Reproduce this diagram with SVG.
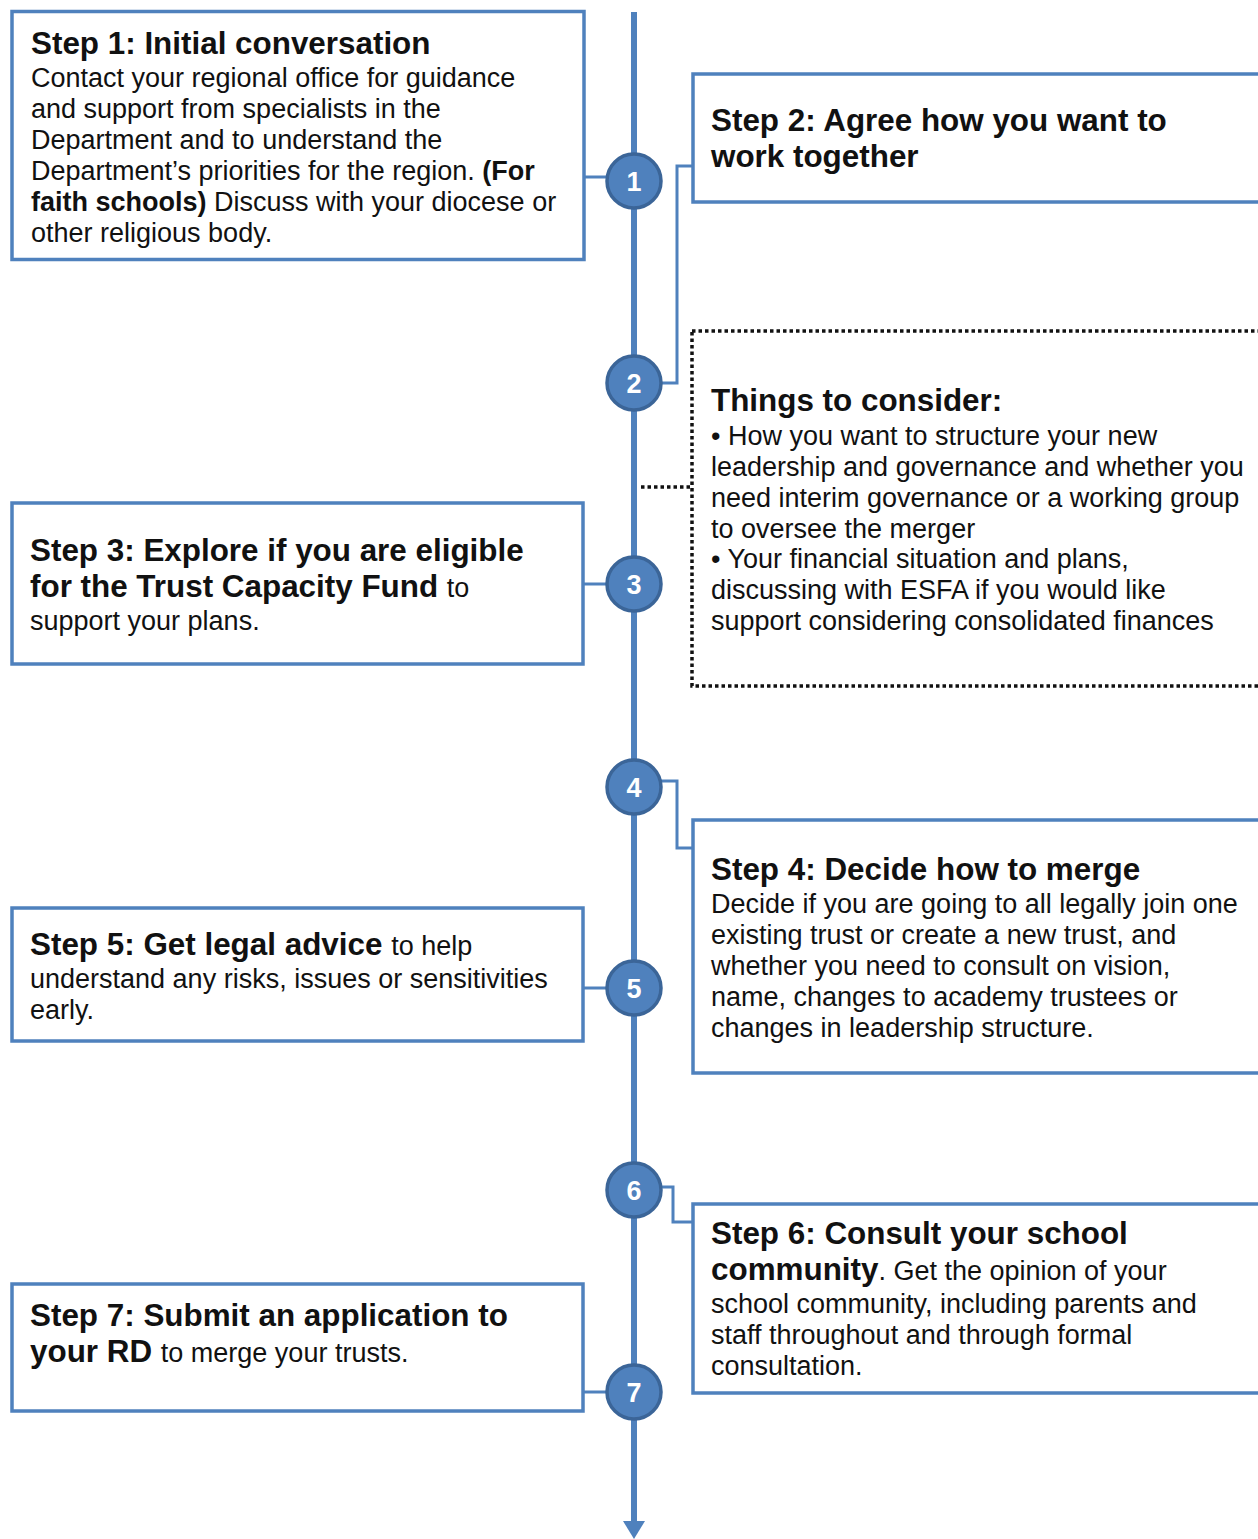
<svg xmlns="http://www.w3.org/2000/svg" width="1258" height="1539" viewBox="0 0 1258 1539">
<style>
text{font-family:"Liberation Sans",Arial,sans-serif;fill:#111}
.t{font-size:31.4px;font-weight:bold}
.b{font-size:27px}
.bb{font-weight:bold}
.box{fill:#fff;stroke:#4f81bd;stroke-width:3.5}
.dot{fill:#fff;stroke:#111;stroke-width:3.5;stroke-dasharray:3.5 3}
.ln{fill:none;stroke:#4f81bd;stroke-width:3}
.dl{fill:none;stroke:#111;stroke-width:3.5;stroke-dasharray:3.5 3}
.c{fill:#4f81bd;stroke:#3b6598;stroke-width:3.5}
.n{font-size:27px;font-weight:bold;fill:#fff;text-anchor:middle}
</style>
<rect width="1258" height="1539" fill="#fff"/>
<g id="connectors">
<line x1="634" y1="12" x2="634" y2="1526" stroke="#4f81bd" stroke-width="6"/>
<polygon points="623,1521 645,1521 634,1539" fill="#4f81bd"/>
<polyline class="ln" points="585,177 607,177"/>
<polyline class="ln" points="583,584 607,584"/>
<polyline class="ln" points="583,988 607,988"/>
<polyline class="ln" points="583,1392 607,1392"/>
<polyline class="ln" points="661,383 677,383 677,166 693,166"/>
<polyline class="ln" points="661,781 677,781 677,848 693,848"/>
<polyline class="ln" points="661,1187 673,1187 673,1222 693,1222"/>
<polyline class="dl" points="641,487 692,487"/>
</g>
<g id="step1">
<rect class="box" x="12" y="11.5" width="572" height="248"/>
<text class="t" x="31" y="54">Step 1: Initial conversation</text>
<text class="b" x="31" y="87">Contact your regional office for guidance</text>
<text class="b" x="31" y="118">and support from specialists in the</text>
<text class="b" x="31" y="149">Department and to understand the</text>
<text class="b" x="31" y="180">Department’s priorities for the region. <tspan class="bb">(For</tspan></text>
<text class="b" x="31" y="211"><tspan class="bb">faith schools)</tspan> Discuss with your diocese or</text>
<text class="b" x="31" y="242">other religious body.</text>
</g>
<g id="step2">
<rect class="box" x="693" y="74" width="580" height="128"/>
<text class="t" x="711" y="131">Step 2: Agree how you want to</text>
<text class="t" x="711" y="167">work together</text>
</g>
<g id="consider">
<rect class="dot" x="692" y="331" width="580" height="355"/>
<text class="t" x="711" y="411">Things to consider:</text>
<text class="b" x="711" y="445">• How you want to structure your new</text>
<text class="b" x="711" y="476">leadership and governance and whether you</text>
<text class="b" x="711" y="507">need interim governance or a working group</text>
<text class="b" x="711" y="538">to oversee the merger</text>
<text class="b" x="711" y="568">• Your financial situation and plans,</text>
<text class="b" x="711" y="599">discussing with ESFA if you would like</text>
<text class="b" x="711" y="630">support considering consolidated finances</text>
</g>
<g id="step3">
<rect class="box" x="12" y="503" width="571" height="161"/>
<text class="t" x="30" y="561">Step 3: Explore if you are eligible</text>
<text class="t" x="30" y="597">for the Trust Capacity Fund <tspan style="font-weight:normal;font-size:27px">to</tspan></text>
<text class="b" x="30" y="630">support your plans.</text>
</g>
<g id="step4">
<rect class="box" x="693" y="820" width="580" height="253"/>
<text class="t" x="711" y="880">Step 4: Decide how to merge</text>
<text class="b" x="711" y="913">Decide if you are going to all legally join one</text>
<text class="b" x="711" y="944">existing trust or create a new trust, and</text>
<text class="b" x="711" y="975">whether you need to consult on vision,</text>
<text class="b" x="711" y="1006">name, changes to academy trustees or</text>
<text class="b" x="711" y="1037">changes in leadership structure.</text>
</g>
<g id="step5">
<rect class="box" x="12" y="908" width="571" height="133"/>
<text class="t" x="30" y="955">Step 5: Get legal advice <tspan style="font-weight:normal;font-size:27px">to help</tspan></text>
<text class="b" x="30" y="988">understand any risks, issues or sensitivities</text>
<text class="b" x="30" y="1019">early.</text>
</g>
<g id="step6">
<rect class="box" x="693" y="1204" width="580" height="189"/>
<text class="t" x="711" y="1244">Step 6: Consult your school</text>
<text class="t" x="711" y="1280">community<tspan style="font-weight:normal;font-size:27px">. Get the opinion of your</tspan></text>
<text class="b" x="711" y="1313">school community, including parents and</text>
<text class="b" x="711" y="1344">staff throughout and through formal</text>
<text class="b" x="711" y="1375">consultation.</text>
</g>
<g id="step7">
<rect class="box" x="12" y="1284" width="571" height="127"/>
<text class="t" x="30" y="1326">Step 7: Submit an application to</text>
<text class="t" x="30" y="1362">your RD <tspan style="font-weight:normal;font-size:27px">to merge your trusts.</tspan></text>
</g>
<g id="c1"><circle class="c" cx="634" cy="181" r="27"/><text class="n" x="634" y="191">1</text></g>
<g id="c2"><circle class="c" cx="634" cy="383" r="27"/><text class="n" x="634" y="393">2</text></g>
<g id="c3"><circle class="c" cx="634" cy="584" r="27"/><text class="n" x="634" y="594">3</text></g>
<g id="c4"><circle class="c" cx="634" cy="787" r="27"/><text class="n" x="634" y="797">4</text></g>
<g id="c5"><circle class="c" cx="634" cy="988" r="27"/><text class="n" x="634" y="998">5</text></g>
<g id="c6"><circle class="c" cx="634" cy="1190" r="27"/><text class="n" x="634" y="1200">6</text></g>
<g id="c7"><circle class="c" cx="634" cy="1392" r="27"/><text class="n" x="634" y="1402">7</text></g>
</svg>
